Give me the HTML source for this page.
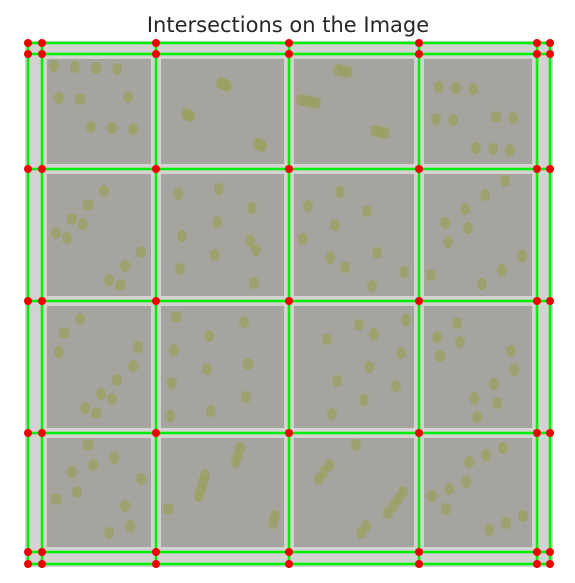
<!DOCTYPE html>
<html><head><meta charset="utf-8"><style>
body{margin:0;background:#fff;width:575px;height:583px;overflow:hidden}
svg{display:block}
</style></head><body>
<svg width="575" height="583" id="svg">
<text x="288" y="32" text-anchor="middle" font-family="'DejaVu Sans','Liberation Sans',sans-serif" font-size="21" fill="#262626">Intersections on the Image</text>
<rect x="25" y="41" width="528" height="526" fill="#d2d2d0"/>
<g id="cells"></g><g id="blobs"></g><g id="lines"></g><g id="dots"></g>
</svg>
<script>
const xLines=[28,42,156,289,419,537,550];
const yLines=[43,54,169,301,433,552,564];
const NS="http://www.w3.org/2000/svg";
function mk(t,a,p){const e=document.createElementNS(NS,t);for(const k in a)e.setAttribute(k,a[k]);document.getElementById(p).appendChild(e);return e;}
const cx=[42,156,289,419,537], cy=[54,169,301,433,552];
for(let i=0;i<4;i++)for(let j=0;j<4;j++){
  const e=mk('rect',{x:cx[i]+5,y:cy[j]+5,width:cx[i+1]-cx[i]-10,height:cy[j+1]-cy[j]-10,fill:'#a6a49e'},'cells');
  
  
  for(let k=0;k<10;k++){
    const bx=cx[i]+12+((k*37+i*53+j*29)%(cx[i+1]-cx[i]-24));
    const by=cy[j]+12+((k*61+i*17+j*43)%(cy[j+1]-cy[j]-24));
    const b=mk('ellipse',{cx:bx,cy:by,rx:5,ry:6,fill:'#9aa060',opacity:0.8},'blobs');
    
    
  }
}
for(const x of xLines){
  const l=mk('line',{x1:x,y1:41,x2:x,y2:567,stroke:'#00ee00','stroke-width':2.5},'lines');
  
  
}
for(const y of yLines){
  const l=mk('line',{x1:25,y1:y,x2:553,y2:y,stroke:'#00ee00','stroke-width':2.5},'lines');
  
  
}
for(const x of xLines)for(const y of yLines){
  const d=mk('circle',{cx:x,cy:y,r:4,fill:'#ee0000'},'dots');
  
  
}
</script>
</body></html>
